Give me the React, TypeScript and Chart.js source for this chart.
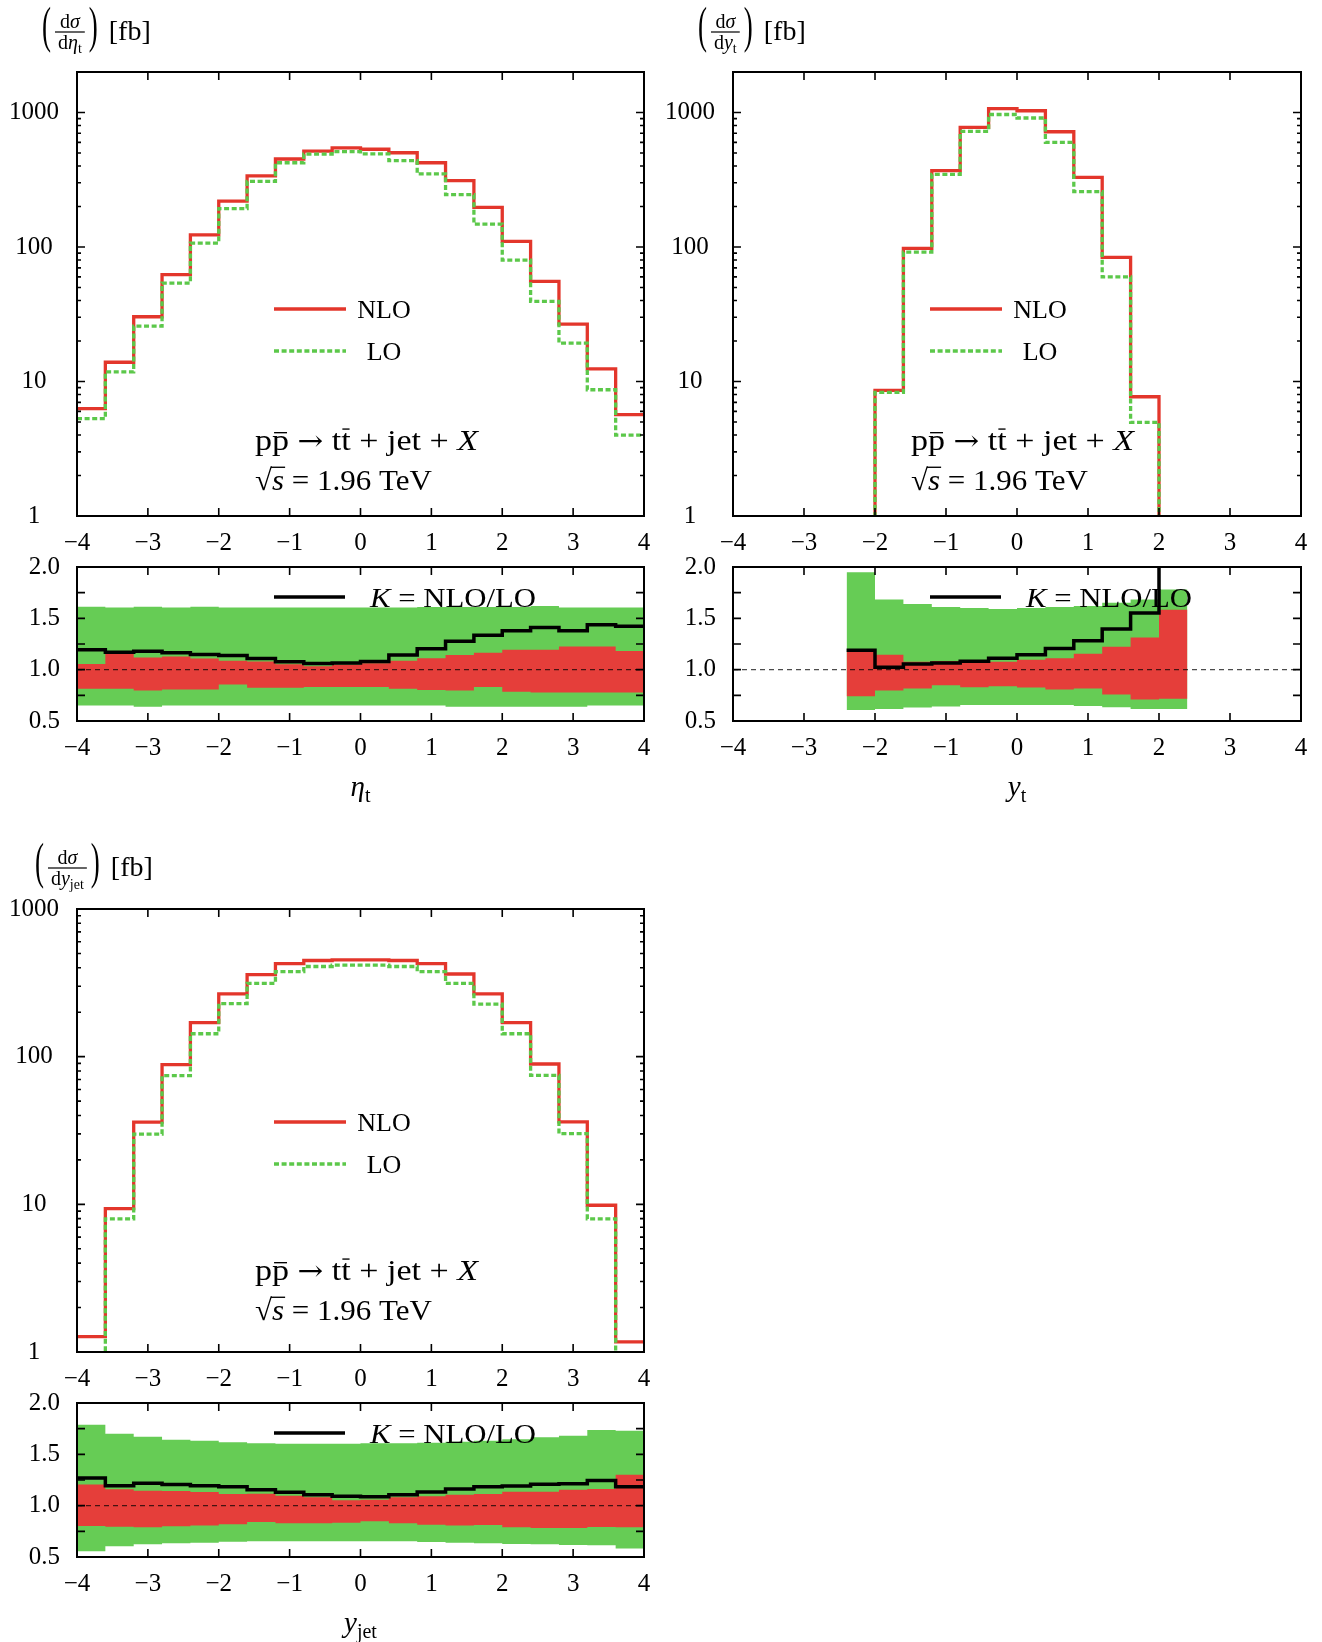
import React, { useEffect, useRef } from "react";
import { Chart, registerables } from "chart.js";

Chart.register(...registerables);

const PAGE_W = 1322;
const PAGE_H = 1642;
const SERIF = '"Liberation Serif", "DejaVu Serif", serif';
const ARROW_FONT = '"DejaVu Serif", "DejaVu Sans", serif';

// ---------------- data ----------------
const binEdges = [-4, -3.6, -3.2, -2.8, -2.4, -2, -1.6, -1.2, -0.8, -0.4, 0, 0.4, 0.8, 1.2, 1.6, 2, 2.4, 2.8, 3.2, 3.6, 4];
const xTickValues = [-4, -3, -2, -1, 0, 1, 2, 3, 4];
const logTickValues = [1, 10, 100, 1000];
const ratioTickValues = [0.5, 1.0, 1.5, 2.0];
const ratioMinorValues = [0.75, 1.25, 1.75];
const unityX = [-4, 4];
const unityY = [1, 1];

// eta_t
const etaNLO = [6.28, 13.9, 30.3, 62.4, 123, 219, 338, 451, 517, 545, 533, 502, 423, 312, 197, 110, 55.5, 26.7, 12.4, 5.68];
const etaLO = [5.29, 11.8, 25.8, 53.9, 107, 193, 308, 423, 490, 511, 493, 438, 350, 245, 148, 80, 39.4, 19.3, 8.68, 3.99];
const etaK = [1.193, 1.17, 1.18, 1.164, 1.147, 1.138, 1.108, 1.076, 1.06, 1.066, 1.079, 1.144, 1.203, 1.278, 1.336, 1.378, 1.411, 1.378, 1.437, 1.424];
const etaGreenHi = [1.613, 1.606, 1.613, 1.606, 1.613, 1.606, 1.606, 1.606, 1.606, 1.606, 1.606, 1.606, 1.61, 1.61, 1.61, 1.61, 1.619, 1.606, 1.606, 1.606];
const etaGreenLo = [0.65, 0.65, 0.64, 0.65, 0.65, 0.65, 0.65, 0.65, 0.65, 0.65, 0.65, 0.65, 0.65, 0.64, 0.64, 0.64, 0.64, 0.64, 0.65, 0.65];
const etaRedHi = [1.056, 1.154, 1.118, 1.128, 1.108, 1.086, 1.079, 1.053, 1.034, 1.047, 1.063, 1.086, 1.112, 1.144, 1.164, 1.193, 1.193, 1.226, 1.226, 1.183];
const etaRedLo = [0.815, 0.815, 0.796, 0.806, 0.806, 0.855, 0.825, 0.825, 0.832, 0.832, 0.832, 0.815, 0.803, 0.796, 0.832, 0.786, 0.777, 0.777, 0.777, 0.777];

// y_t
const ytNLO = [null, null, null, null, 0.45, 8.6, 97.7, 370, 776, 1067, 1030, 719, 329, 83.8, 7.7, 0.3, null, null, null, null];
const ytLO = [null, null, null, null, 0.38, 8.3, 91.5, 347, 723, 966, 910, 599, 258, 59.9, 4.96, 0.1, null, null, null, null];
const ytK = [null, null, null, null, 1.19, 1.023, 1.055, 1.065, 1.081, 1.11, 1.145, 1.206, 1.281, 1.397, 1.552, 2.6, null, null, null, null];
const ytGreenHi = [null, null, null, null, 1.948, 1.684, 1.639, 1.61, 1.6, 1.59, 1.6, 1.61, 1.619, 1.652, 1.684, 1.781, null, null, null, null];
const ytGreenLo = [null, null, null, null, 0.606, 0.616, 0.632, 0.642, 0.655, 0.655, 0.655, 0.655, 0.645, 0.635, 0.616, 0.616, null, null, null, null];
const ytRedHi = [null, null, null, null, 1.171, 1.145, 1.077, 1.084, 1.071, 1.077, 1.097, 1.11, 1.155, 1.223, 1.313, 1.584, null, null, null, null];
const ytRedLo = [null, null, null, null, 0.742, 0.797, 0.816, 0.848, 0.829, 0.839, 0.826, 0.806, 0.816, 0.758, 0.71, 0.716, null, null, null, null];

// y_jet
const yjNLO = [1.27, 9.34, 36.0, 88.2, 170, 266, 359, 426, 448, 452, 452, 448, 426, 363, 266, 170, 89.2, 36.2, 9.86, 1.17];
const yjLO = [0.98, 7.96, 29.9, 74.3, 143, 229, 314, 377, 408, 417, 417, 408, 377, 314, 227, 143, 74.6, 30.1, 7.96, 0.98];
const yjK = [1.269, 1.195, 1.218, 1.205, 1.195, 1.185, 1.156, 1.13, 1.107, 1.091, 1.088, 1.107, 1.133, 1.162, 1.185, 1.192, 1.208, 1.214, 1.244, 1.185];
const yjGreenHi = [1.789, 1.701, 1.672, 1.643, 1.633, 1.617, 1.607, 1.604, 1.604, 1.604, 1.607, 1.607, 1.614, 1.623, 1.633, 1.646, 1.666, 1.682, 1.737, 1.73];
const yjGreenLo = [0.555, 0.604, 0.623, 0.633, 0.64, 0.649, 0.653, 0.653, 0.653, 0.653, 0.653, 0.653, 0.646, 0.64, 0.633, 0.627, 0.623, 0.617, 0.614, 0.584];
const yjRedHi = [1.205, 1.159, 1.146, 1.143, 1.133, 1.114, 1.117, 1.097, 1.081, 1.052, 1.058, 1.081, 1.091, 1.107, 1.114, 1.136, 1.136, 1.156, 1.162, 1.302];
const yjRedLo = [0.802, 0.795, 0.789, 0.799, 0.808, 0.818, 0.841, 0.828, 0.828, 0.834, 0.847, 0.828, 0.815, 0.808, 0.812, 0.789, 0.782, 0.782, 0.792, 0.789];

// ---------------- styles ----------------
const RED_LINE = "#e3362b";
const GREEN_LINE = "#5cc84a";
const RED_BAND = "#e53e3a";
const GREEN_BAND = "#66cc55";
const YW = 70;
const XH = 60;

type Num = number | null;
type Geo = { L: number; R: number; T: number; B: number };
type Run = { t: string; size: number; italic?: boolean; dy?: number; over?: number; overFull?: boolean; family?: string };

function stepPoints(edges: number[], values: Num[]) {
  const pts: { x: number; y: number }[] = [];
  let last = -1;
  values.forEach((v, i) => {
    if (v === null || v === undefined) return;
    pts.push({ x: edges[i], y: v });
    last = i;
  });
  if (last >= 0) pts.push({ x: edges[last + 1], y: values[last] as number });
  return pts;
}

function stepDataset(values: Num[], style: any) {
  return {
    data: stepPoints(binEdges, values),
    stepped: "before",
    pointRadius: 0,
    pointHoverRadius: 0,
    tension: 0,
    clip: 0,
    ...style,
  };
}

function runFont(r: Run) {
  return `${r.italic ? "italic " : ""}${r.size}px ${r.family || SERIF}`;
}

function measureRuns(ctx: CanvasRenderingContext2D, runs: Run[]) {
  let w = 0;
  for (const r of runs) {
    ctx.font = runFont(r);
    w += ctx.measureText(r.t).width;
  }
  return w;
}

function drawRich(ctx: CanvasRenderingContext2D, runs: Run[], x: number, y: number, align: string, targetW?: number) {
  const natural = measureRuns(ctx, runs);
  const sx = targetW ? targetW / natural : 1;
  const w = natural * sx;
  const start = align === "center" ? x - w / 2 : align === "right" ? x - w : x;
  ctx.save();
  ctx.fillStyle = "#000";
  ctx.textAlign = "left";
  ctx.textBaseline = "alphabetic";
  ctx.translate(start, y);
  ctx.scale(sx, 1);
  let cx = 0;
  for (const r of runs) {
    ctx.font = runFont(r);
    const tw = ctx.measureText(r.t).width;
    const dy = r.dy || 0;
    ctx.fillText(r.t, cx, dy);
    if (r.over) {
      const th = Math.max(1.2, r.size * 0.045);
      if (r.overFull) ctx.fillRect(cx - 1, dy - r.size * r.over, tw + 2, th);
      else ctx.fillRect(cx + tw * 0.12, dy - r.size * r.over, tw * 0.76, th);
    }
    cx += tw;
  }
  ctx.restore();
}

function hLine(ctx: CanvasRenderingContext2D, x1: number, x2: number, y: number, color: string, dash: number[]) {
  ctx.save();
  ctx.strokeStyle = color;
  ctx.lineWidth = 3.5;
  ctx.setLineDash(dash);
  ctx.beginPath();
  ctx.moveTo(x1, y);
  ctx.lineTo(x2, y);
  ctx.stroke();
  ctx.restore();
}

function drawParen(ctx: CanvasRenderingContext2D, ch: string, x: number, cy: number) {
  ctx.save();
  ctx.fillStyle = "#000";
  ctx.font = `27px ${SERIF}`;
  ctx.textAlign = "left";
  ctx.textBaseline = "middle";
  ctx.translate(x, cy);
  ctx.scale(1, 1.85);
  ctx.fillText(ch, 0, -1.5);
  ctx.restore();
}

function drawYTitle(ctx: CanvasRenderingContext2D, x: number, barY: number, v: string, sub: string) {
  ctx.font = `27px ${SERIF}`;
  const pw = ctx.measureText("(").width;
  drawParen(ctx, "(", x, barY);
  const num: Run[] = [{ t: "d", size: 20 }, { t: "σ", size: 20, italic: true }];
  const den: Run[] = [{ t: "d", size: 20 }, { t: v, size: 20, italic: true }, { t: sub, size: 14, dy: 4 }];
  const fw = Math.max(measureRuns(ctx, num), measureRuns(ctx, den)) + 6;
  const fx = x + pw + 4;
  ctx.fillStyle = "#000";
  ctx.fillRect(fx, barY - 0.6, fw, 1.2);
  drawRich(ctx, num, fx + fw / 2, barY - 4.5, "center");
  drawRich(ctx, den, fx + fw / 2, barY + 17, "center");
  const rx = fx + fw + 4;
  drawParen(ctx, ")", rx, barY);
  drawRich(ctx, [{ t: "[fb]", size: 28 }], rx + pw + 11, barY + 8, "left");
}

function drawProcess(ctx: CanvasRenderingContext2D, x: number, y1: number, y2: number) {
  drawRich(
    ctx,
    [
      { t: "p", size: 30 },
      { t: "p", size: 30, over: 0.6 },
      { t: " ", size: 30 },
      { t: "\u2192", size: 27, family: ARROW_FONT },
      { t: " t", size: 30 },
      { t: "t", size: 30, over: 0.72 },
      { t: " + jet + ", size: 30 },
      { t: "X", size: 30, italic: true },
    ],
    x,
    y1,
    "left",
    223
  );
  drawRich(
    ctx,
    [
      { t: "\u221A", size: 30 },
      { t: "s", size: 30, italic: true, over: 0.78, overFull: true },
      { t: " = 1.96 TeV", size: 30 },
    ],
    x,
    y2,
    "left",
    177
  );
}

function framePlugin(minorY: number[], minorLen: number, decor: (ctx: CanvasRenderingContext2D, a: any) => void) {
  return {
    id: "frameAndDecor",
    afterDatasetsDraw(chart: any) {
      const { ctx, chartArea: a, scales } = chart;
      const xs = scales.x;
      const ys = scales.y;
      ctx.save();
      ctx.strokeStyle = "#000";
      ctx.lineWidth = 1.6;
      ctx.beginPath();
      for (const v of xTickValues) {
        const p = xs.getPixelForValue(v);
        ctx.moveTo(p, a.bottom);
        ctx.lineTo(p, a.bottom - 8);
        ctx.moveTo(p, a.top);
        ctx.lineTo(p, a.top + 8);
      }
      for (const t of ys.ticks) {
        const p = ys.getPixelForValue(t.value);
        ctx.moveTo(a.left, p);
        ctx.lineTo(a.left + 8, p);
        ctx.moveTo(a.right, p);
        ctx.lineTo(a.right - 8, p);
      }
      for (const v of minorY) {
        const p = ys.getPixelForValue(v);
        ctx.moveTo(a.left, p);
        ctx.lineTo(a.left + minorLen, p);
        ctx.moveTo(a.right, p);
        ctx.lineTo(a.right - minorLen, p);
      }
      ctx.stroke();
      ctx.lineWidth = 2;
      ctx.strokeRect(a.left, a.top, a.right - a.left, a.bottom - a.top);
      ctx.restore();
    },
    afterDraw(chart: any) {
      const { ctx, chartArea } = chart;
      ctx.save();
      decor(ctx, chartArea);
      ctx.restore();
    },
  };
}

const tickFont = { family: SERIF, size: 25 };

function fmtX(v: any) {
  const n = Number(v);
  return n < 0 ? "\u2212" + Math.abs(n) : String(n);
}

function baseOptions(geo: Geo) {
  return {
    responsive: false,
    animation: false,
    devicePixelRatio: 1,
    events: [],
    layout: {
      padding: { left: geo.L - YW, right: PAGE_W - geo.R, top: geo.T, bottom: PAGE_H - geo.B - XH },
    },
    plugins: { legend: { display: false }, tooltip: { enabled: false } },
  };
}

function xScale() {
  return {
    type: "linear",
    min: -4,
    max: 4,
    grid: { display: false, drawTicks: false },
    border: { display: false },
    ticks: { stepSize: 1, padding: 12, font: tickFont, color: "#000", callback: fmtX, maxRotation: 0, minRotation: 0, autoSkip: false },
    afterBuildTicks: (s: any) => {
      s.ticks = xTickValues.map((v) => ({ value: v }));
    },
    afterFit: (s: any) => {
      s.height = XH;
    },
  };
}

type MainSpec = {
  geo: Geo;
  yMax: number;
  nlo: Num[];
  lo: Num[];
  decor: (ctx: CanvasRenderingContext2D, a: any) => void;
};

function mainConfig(spec: MainSpec) {
  const minor: number[] = [];
  for (const d of logTickValues) for (let m = 2; m <= 9; m++) if (d * m < spec.yMax) minor.push(d * m);
  return {
    type: "line",
    data: {
      datasets: [
        stepDataset(spec.lo, { borderColor: GREEN_LINE, borderWidth: 3.3, borderDash: [5, 2.6], fill: false, order: 1 }),
        stepDataset(spec.nlo, { borderColor: RED_LINE, borderWidth: 3.3, fill: false, order: 2 }),
      ],
    },
    options: {
      ...baseOptions(spec.geo),
      scales: {
        x: xScale(),
        y: {
          type: "logarithmic",
          min: 1,
          max: spec.yMax,
          grid: { display: false, drawTicks: false },
          border: { display: false },
          ticks: { padding: 18, crossAlign: "center", font: tickFont, color: "#000", autoSkip: false, callback: (v: any) => String(v) },
          afterBuildTicks: (s: any) => {
            s.ticks = logTickValues.map((v) => ({ value: v }));
          },
          afterFit: (s: any) => {
            s.width = YW;
          },
        },
      },
    },
    plugins: [framePlugin(minor, 4, spec.decor)],
  };
}

type RatioSpec = {
  geo: Geo;
  k: Num[];
  greenHi: Num[];
  greenLo: Num[];
  redHi: Num[];
  redLo: Num[];
  decor: (ctx: CanvasRenderingContext2D, a: any) => void;
};

function ratioConfig(spec: RatioSpec) {
  const clear = "rgba(0,0,0,0)";
  return {
    type: "line",
    data: {
      datasets: [
        stepDataset(spec.greenLo, { borderColor: clear, borderWidth: 1, fill: false, order: 6 }),
        stepDataset(spec.greenHi, { borderColor: clear, borderWidth: 1, backgroundColor: GREEN_BAND, fill: "-1", order: 5 }),
        stepDataset(spec.redLo, { borderColor: clear, borderWidth: 1, fill: false, order: 4 }),
        stepDataset(spec.redHi, { borderColor: clear, borderWidth: 1, backgroundColor: RED_BAND, fill: "-1", order: 3 }),
        {
          data: unityX.map((x, i) => ({ x, y: unityY[i] })),
          borderColor: "rgba(0,0,0,0.7)",
          borderWidth: 1.2,
          borderDash: [5, 4],
          pointRadius: 0,
          fill: false,
          clip: 0,
          order: 2,
        },
        stepDataset(spec.k, { borderColor: "#000", borderWidth: 3.5, fill: false, order: 1 }),
      ],
    },
    options: {
      ...baseOptions(spec.geo),
      scales: {
        x: xScale(),
        y: {
          type: "linear",
          min: 0.5,
          max: 2.0,
          grid: { display: false, drawTicks: false },
          border: { display: false },
          ticks: { padding: 17, font: tickFont, color: "#000", autoSkip: false, callback: (v: any) => Number(v).toFixed(1) },
          afterBuildTicks: (s: any) => {
            s.ticks = ratioTickValues.map((v) => ({ value: v }));
          },
          afterFit: (s: any) => {
            s.width = YW;
          },
        },
      },
    },
    plugins: [framePlugin(ratioMinorValues, 8, spec.decor)],
  };
}

// ---------------- geometry ----------------
const g1: Geo = { L: 77, R: 644, T: 72, B: 516 };
const g1r: Geo = { L: 77, R: 644, T: 567, B: 721 };
const g2: Geo = { L: 733, R: 1301, T: 72, B: 516 };
const g2r: Geo = { L: 733, R: 1301, T: 567, B: 721 };
const g3: Geo = { L: 77, R: 644, T: 909, B: 1352 };
const g3r: Geo = { L: 77, R: 644, T: 1403, B: 1557 };

function mainLegend(ctx: CanvasRenderingContext2D, L: number, yNLO: number, yLO: number) {
  hLine(ctx, L + 197, L + 269, yNLO, RED_LINE, []);
  hLine(ctx, L + 197, L + 269, yLO, GREEN_LINE, [5, 2.6]);
  drawRich(ctx, [{ t: "NLO", size: 26 }], L + 307, yNLO + 9, "center");
  drawRich(ctx, [{ t: "LO", size: 26 }], L + 307, yLO + 9, "center");
}

function kLegend(ctx: CanvasRenderingContext2D, g: Geo) {
  hLine(ctx, g.L + 197, g.L + 268, g.T + 30, "#000", []);
  drawRich(
    ctx,
    [
      { t: "K", size: 27, italic: true },
      { t: " = NLO/LO", size: 27 },
    ],
    g.L + 293,
    g.T + 39.5,
    "left",
    166
  );
}

function xTitle(ctx: CanvasRenderingContext2D, g: Geo, v: string, sub: string) {
  drawRich(
    ctx,
    [
      { t: v, size: 29, italic: true },
      { t: sub, size: 20, dy: 6 },
    ],
    (g.L + g.R) / 2,
    g.B + 75,
    "center"
  );
}

const makers: (() => any)[] = [
  () =>
    mainConfig({
      geo: g1,
      yMax: 2000,
      nlo: etaNLO,
      lo: etaLO,
      decor: (ctx) => {
        drawYTitle(ctx, 42, 32, "η", "t");
        mainLegend(ctx, g1.L, 309, 351);
        drawProcess(ctx, g1.L + 178, 450, 490);
      },
    }),
  () =>
    ratioConfig({
      geo: g1r,
      k: etaK,
      greenHi: etaGreenHi,
      greenLo: etaGreenLo,
      redHi: etaRedHi,
      redLo: etaRedLo,
      decor: (ctx) => {
        kLegend(ctx, g1r);
        xTitle(ctx, g1r, "η", "t");
      },
    }),
  () =>
    mainConfig({
      geo: g2,
      yMax: 2000,
      nlo: ytNLO,
      lo: ytLO,
      decor: (ctx) => {
        drawYTitle(ctx, 698, 32, "y", "t");
        mainLegend(ctx, g2.L, 309, 351);
        drawProcess(ctx, g2.L + 178, 450, 490);
      },
    }),
  () =>
    ratioConfig({
      geo: g2r,
      k: ytK,
      greenHi: ytGreenHi,
      greenLo: ytGreenLo,
      redHi: ytRedHi,
      redLo: ytRedLo,
      decor: (ctx) => {
        kLegend(ctx, g2r);
        xTitle(ctx, g2r, "y", "t");
      },
    }),
  () =>
    mainConfig({
      geo: g3,
      yMax: 1000,
      nlo: yjNLO,
      lo: yjLO,
      decor: (ctx) => {
        drawYTitle(ctx, 35, 868, "y", "jet");
        mainLegend(ctx, g3.L, 1122, 1164);
        drawProcess(ctx, g3.L + 178, 1280, 1320);
      },
    }),
  () =>
    ratioConfig({
      geo: g3r,
      k: yjK,
      greenHi: yjGreenHi,
      greenLo: yjGreenLo,
      redHi: yjRedHi,
      redLo: yjRedLo,
      decor: (ctx) => {
        kLegend(ctx, g3r);
        xTitle(ctx, g3r, "y", "jet");
      },
    }),
];

function PanelChart({ make }: { make: () => any }) {
  const ref = useRef<HTMLCanvasElement | null>(null);
  useEffect(() => {
    if (!ref.current) return;
    const chart = new Chart(ref.current, make());
    return () => chart.destroy();
  }, [make]);
  return (
    <canvas
      ref={ref}
      width={PAGE_W}
      height={PAGE_H}
      style={{ position: "absolute", left: 0, top: 0, width: PAGE_W, height: PAGE_H }}
    />
  );
}

export default function App() {
  return (
    <div
      style={{
        position: "absolute",
        left: 0,
        top: 0,
        width: PAGE_W,
        height: PAGE_H,
        background: "#ffffff",
        overflow: "hidden",
      }}
    >
      {makers.map((m, i) => (
        <PanelChart key={i} make={m} />
      ))}
    </div>
  );
}
